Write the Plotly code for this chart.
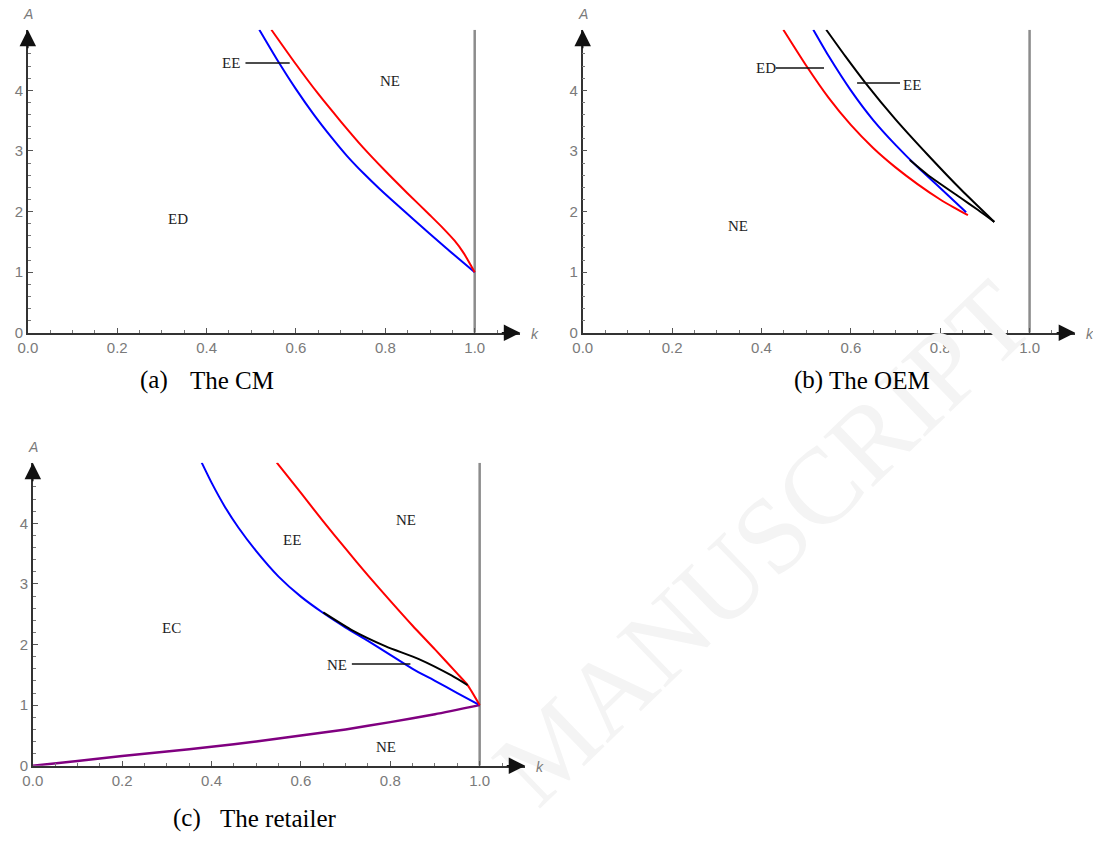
import plotly.graph_objects as go

W, H = 1093, 857

# ---------------- data ----------------
# Panel (a) The CM
a_blue_k = [0.518, 0.56, 0.60, 0.64, 0.68, 0.714, 0.75, 0.788, 0.862, 0.936, 1.0]
a_blue_A = [5.0, 4.48, 4.02, 3.60, 3.22, 2.92, 2.64, 2.37, 1.88, 1.40, 1.0]
a_red_k = [0.545, 0.60, 0.65, 0.70, 0.75, 0.80, 0.85, 0.90, 0.93, 0.955, 0.975, 1.0]
a_red_A = [5.0, 4.43, 3.94, 3.49, 3.06, 2.67, 2.30, 1.94, 1.72, 1.52, 1.32, 1.0]

# Panel (b) The OEM
b_red_k = [0.449, 0.50, 0.55, 0.60, 0.65, 0.70, 0.75, 0.80, 0.83, 0.862]
b_red_A = [5.0, 4.41, 3.88, 3.43, 3.05, 2.73, 2.45, 2.20, 2.07, 1.94]
b_blue_k = [0.516, 0.55, 0.60, 0.65, 0.70, 0.75, 0.80, 0.858]
b_blue_A = [5.0, 4.57, 4.00, 3.51, 3.10, 2.73, 2.39, 1.99]
b_black_up_k = [0.545, 0.588, 0.633, 0.699, 0.773, 0.847, 0.921]
b_black_up_A = [5.0, 4.56, 4.12, 3.53, 2.93, 2.36, 1.83]
b_black_lo_k = [0.732, 0.773, 0.847, 0.884, 0.921]
b_black_lo_A = [2.85, 2.60, 2.22, 2.03, 1.83]

# Panel (c) The retailer
c_blue_k = [0.378, 0.40, 0.43, 0.46, 0.50, 0.55, 0.60, 0.65, 0.70, 0.75, 0.80, 0.85, 0.90, 0.95, 1.0]
c_blue_A = [5.0, 4.67, 4.27, 3.93, 3.54, 3.12, 2.79, 2.52, 2.28, 2.06, 1.83, 1.60, 1.40, 1.20, 1.0]
c_red_k = [0.546, 0.60, 0.65, 0.70, 0.75, 0.80, 0.85, 0.90, 0.95, 0.973, 1.0]
c_red_A = [5.0, 4.50, 4.03, 3.58, 3.14, 2.72, 2.31, 1.92, 1.52, 1.33, 1.0]
c_black_k = [0.650, 0.716, 0.790, 0.864, 0.937, 0.973]
c_black_A = [2.53, 2.23, 1.97, 1.76, 1.49, 1.33]
c_purple_k = [0.0, 0.1, 0.2, 0.3, 0.4, 0.5, 0.6, 0.7, 0.8, 0.9, 1.0]
c_purple_A = [0.0, 0.08, 0.16, 0.235, 0.315, 0.40, 0.50, 0.60, 0.72, 0.85, 1.0]

# vertical boundary k = 1
vline_k = [1.0, 1.0]
vline_A = [0.0, 5.0]

# tick labels
x_tickvals = [0.0, 0.2, 0.4, 0.6, 0.8, 1.0]
x_ticktext = ["0.0", "0.2", "0.4", "0.6", "0.8", "1.0"]
y_tickvals = [0, 1, 2, 3, 4]
y_ticktext = ["0", "1", "2", "3", "4"]

# region labels: (panel, text, k, A)
region_labels = [
    (1, "EE", 0.455, 4.45), (1, "NE", 0.810, 4.15), (1, "ED", 0.337, 1.88),
    (2, "ED", 0.410, 4.37), (2, "EE", 0.737, 4.09), (2, "NE", 0.348, 1.76),
    (3, "NE", 0.836, 4.06), (3, "EE", 0.580, 3.72), (3, "EC", 0.311, 2.28),
    (3, "NE", 0.680, 1.67), (3, "NE", 0.790, 0.31),
]
# leader lines: (panel, k_start, k_end, A)
leaders = [
    (1, 0.487, 0.586, 4.45),
    (2, 0.432, 0.540, 4.37),
    (2, 0.614, 0.710, 4.12),
    (3, 0.714, 0.845, 1.68),
]
captions = [("(a)", "The CM"), ("(b)", "The OEM"), ("(c)", "The retailer")]
watermark = "MANUSCRIPT"

# ---------------- layout helpers ----------------
K_MAX, A_MAX = 1.102, 5.0
# pixel placement of the three panels: (x of k=0, y of A=0, y of A=5)
panels = {1: (18, 336, 30), 2: (578, 336, 30), 3: (23, 773, 467)}
PX_PER_K = 451


def pxx(x):
    return x / W


def pyy(y):
    return 1 - y / H


fig = go.Figure()

colors = {"blue": "#0000ff", "red": "#ff0000", "black": "#000000", "purple": "#800080"}


def axes_of(p):
    return ("x", "y") if p == 1 else (f"x{p}", f"y{p}")


def add_line(p, k, A, color, width=2.0):
    xa, ya = axes_of(p)
    fig.add_trace(go.Scatter(
        x=k, y=A, mode="lines", xaxis=xa, yaxis=ya,
        line=dict(color=color, width=width, shape="spline", smoothing=0.6),
        showlegend=False, hoverinfo="skip"))


for p in (1, 2, 3):
    xa, ya = axes_of(p)
    fig.add_trace(go.Scatter(
        x=vline_k, y=vline_A, mode="lines", xaxis=xa, yaxis=ya,
        line=dict(color="#8c8c8c", width=2.5), showlegend=False, hoverinfo="skip"))

add_line(1, a_blue_k, a_blue_A, colors["blue"])
add_line(1, a_red_k, a_red_A, colors["red"])
add_line(2, b_red_k, b_red_A, colors["red"])
add_line(2, b_blue_k, b_blue_A, colors["blue"])
add_line(2, b_black_up_k, b_black_up_A, colors["black"])
add_line(2, b_black_lo_k, b_black_lo_A, colors["black"])
add_line(3, c_purple_k, c_purple_A, colors["purple"], 2.5)
add_line(3, c_blue_k, c_blue_A, colors["blue"])
add_line(3, c_red_k, c_red_A, colors["red"])
add_line(3, c_black_k, c_black_A, colors["black"])

for p, k0, k1, A in leaders:
    xa, ya = axes_of(p)
    fig.add_trace(go.Scatter(
        x=[k0, k1], y=[A, A], mode="lines", xaxis=xa, yaxis=ya,
        line=dict(color="#111111", width=1.5), showlegend=False, hoverinfo="skip"))

tickfont = dict(family="Liberation Sans, Arial, sans-serif", size=15, color="#7a7a7a")

layout = dict(
    width=W, height=H, margin=dict(l=0, r=0, t=0, b=0),
    paper_bgcolor="white", plot_bgcolor="rgba(0,0,0,0)", showlegend=False,
)
annotations = []

# faint watermark (drawn first so it sits beneath other annotations)
annotations.append(dict(x=pxx(760), y=pyy(548), xref="paper", yref="paper", text=watermark,
                        showarrow=False, textangle=-44, xanchor="center", yanchor="middle",
                        font=dict(family="Liberation Serif, Times New Roman, serif",
                                  size=108, color="#f4f4f4")))

for p, (x0, y0, y5) in panels.items():
    sx = "" if p == 1 else str(p)
    xr = x0 + K_MAX * PX_PER_K
    layout["xaxis" + sx] = dict(
        domain=[pxx(x0), pxx(xr)], range=[0, K_MAX], anchor="y" + sx,
        showgrid=False, zeroline=False, showline=True, linecolor="#333333", linewidth=1.5,
        ticks="inside", ticklen=5, tickwidth=1, tickcolor="#555555",
        tickmode="array", tickvals=x_tickvals, ticktext=x_ticktext, tickfont=tickfont,
        minor=dict(ticks="inside", tickmode="linear", tick0=0, dtick=0.05, ticklen=3,
                   tickcolor="#777777", tickwidth=1),
        fixedrange=True)
    layout["yaxis" + sx] = dict(
        domain=[pyy(y0), pyy(y5)], range=[0, A_MAX], anchor="x" + sx,
        showgrid=False, zeroline=False, showline=True, linecolor="#333333", linewidth=1.5,
        ticks="inside", ticklen=5, tickwidth=1, tickcolor="#555555",
        tickmode="array", tickvals=y_tickvals, ticktext=y_ticktext, tickfont=tickfont,
        minor=dict(ticks="inside", tickmode="linear", tick0=0, dtick=0.2, ticklen=3,
                   tickcolor="#777777", tickwidth=1),
        fixedrange=True)
    xref, yref = "x" + sx, "y" + sx
    # arrowheads
    annotations.append(dict(x=K_MAX, y=0, xref=xref, yref=yref, ax=-20, ay=0, text="",
                            showarrow=True, arrowhead=2, arrowsize=2.2, arrowwidth=1.5,
                            arrowcolor="#111111", standoff=0))
    annotations.append(dict(x=0, y=A_MAX, xref=xref, yref=yref, ax=0, ay=20, text="",
                            showarrow=True, arrowhead=2, arrowsize=2.2, arrowwidth=1.5,
                            arrowcolor="#111111", standoff=0))
    # axis names
    annotations.append(dict(x=pxx(x0), y=pyy(y5 - 16), xref="paper", yref="paper",
                            text="<i>A</i>", showarrow=False, xanchor="center", yanchor="middle",
                            font=dict(family="Liberation Sans, Arial", size=14, color="#7a7a7a")))
    annotations.append(dict(x=pxx(xr + 15), y=pyy(y0 + 1), xref="paper", yref="paper",
                            text="<i>k</i>", showarrow=False, xanchor="center", yanchor="middle",
                            font=dict(family="Liberation Sans, Arial", size=14, color="#7a7a7a")))

for p, txt, k, A in region_labels:
    xa, ya = axes_of(p)
    annotations.append(dict(x=k, y=A, xref=xa, yref=ya, text=txt, showarrow=False,
                            xanchor="center", yanchor="middle",
                            font=dict(family="Liberation Serif, Times New Roman, serif",
                                      size=15, color="#222222")))

caption_pos = [((145, 384), (224, 384)), ((806, 384), (878, 384)), ((179, 826), (271, 826))]
for (lab, name), ((lx, ly), (nx, ny)) in zip(captions, caption_pos):
    cf = dict(family="Liberation Serif, Times New Roman, serif", size=25, color="#000000")
    annotations.append(dict(x=pxx(lx), y=pyy(ly), xref="paper", yref="paper", text=lab,
                            showarrow=False, xanchor="center", yanchor="middle", font=cf))
    annotations.append(dict(x=pxx(nx), y=pyy(ny), xref="paper", yref="paper", text=name,
                            showarrow=False, xanchor="center", yanchor="middle", font=cf))

layout["annotations"] = annotations
fig.update_layout(**layout)
fig.write_html("out.html")
